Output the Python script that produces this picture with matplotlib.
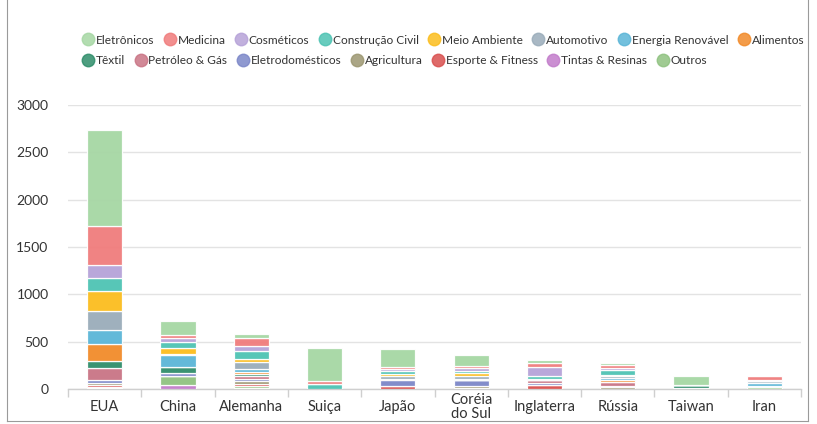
import matplotlib
matplotlib.use("Agg")
import matplotlib.pyplot as plt
from matplotlib.lines import Line2D
import numpy as np

countries = ["EUA", "China", "Alemanha", "Suiça", "Japão", "Coréia\ndo Sul",
             "Inglaterra", "Rússia", "Taiwan", "Iran"]

sectors = ["Eletrônicos", "Medicina", "Cosméticos", "Construção Civil", "Meio Ambiente",
           "Automotivo", "Energia Renovável", "Alimentos", "Têxtil", "Petróleo & Gás",
           "Eletrodomésticos", "Agricultura", "Esporte & Fitness", "Tintas & Resinas", "Outros"]

colors = ["#a6d7a4", "#f07c7c", "#b6a2d8", "#4ec3b3", "#fbbd1e",
          "#9aacba", "#5bb5d7", "#f28b2a", "#2f8d6a", "#c97485",
          "#7c87c8", "#9c9771", "#d9504f", "#c27cca", "#8fc280"]

# values per sector, one entry per country (same order as countries)
eletronicos      = [1010, 140, 37, 355, 190, 110, 35, 20, 95, 0]
medicina         = [410, 37, 90, 25, 25, 25, 35, 30, 0, 40]
cosmeticos       = [140, 37, 50, 0, 25, 35, 100, 25, 0, 15]
construcao       = [140, 63, 80, 55, 25, 20, 25, 50, 0, 0]
meio_ambiente    = [210, 63, 32, 0, 25, 25, 0, 15, 0, 0]
automotivo       = [200, 21, 80, 0, 25, 30, 20, 15, 0, 20]
energia          = [150, 125, 32, 0, 0, 20, 0, 20, 0, 25]
alimentos        = [180, 0, 20, 0, 0, 0, 0, 30, 0, 0]
textil           = [70, 63, 20, 0, 0, 0, 0, 0, 25, 0]
petroleo         = [125, 0, 25, 0, 20, 0, 25, 35, 0, 0]
eletrodomesticos = [35, 26, 30, 0, 55, 55, 25, 10, 0, 15]
agricultura      = [25, 0, 30, 0, 0, 20, 0, 25, 0, 0]
esporte          = [20, 0, 20, 0, 35, 15, 40, 0, 0, 0]
tintas           = [10, 40, 15, 0, 0, 0, 0, 0, 0, 0]
outros           = [10, 100, 15, 0, 0, 0, 0, 0, 15, 20]

series = [eletronicos, medicina, cosmeticos, construcao, meio_ambiente, automotivo,
          energia, alimentos, textil, petroleo, eletrodomesticos, agricultura,
          esporte, tintas, outros]

# stacking order from bottom to top
stack_order = [13, 14, 12, 11, 10, 9, 8, 7, 6, 5, 4, 3, 2, 1, 0]

plt.rcParams['font.family'] = ['Lato', 'DejaVu Sans']

W, H = 817, 424
fig = plt.figure(figsize=(W / 100, H / 100), dpi=100)
ax = fig.add_axes([68 / W, (H - 389) / H, (801 - 68) / W, (389 - 105) / H])

x = np.arange(len(countries))
bottom = np.zeros(len(countries))
for i in stack_order:
    vals = np.array(series[i], dtype=float)
    ax.bar(x, vals, bottom=bottom, width=0.48, color=colors[i],
           edgecolor="white", linewidth=0.9, alpha=0.95, zorder=3)
    bottom += vals

ax.set_xlim(-0.5, len(countries) - 0.5)
ax.set_ylim(0, 3000)
ax.set_yticks([0, 500, 1000, 1500, 2000, 2500, 3000])
ax.yaxis.grid(True, color="#e3e3e3", linewidth=1.0, zorder=0)
ax.set_axisbelow(True)
for s in ["top", "right", "left"]:
    ax.spines[s].set_visible(False)
ax.spines["bottom"].set_color("#cfcfcf")
ax.spines["bottom"].set_linewidth(1.0)

ax.set_xticks(x)
ax.set_xticklabels(countries, fontsize=10.5, color="#333333", linespacing=1.05)
for lab in ax.get_xticklabels():
    lab.set_verticalalignment("center")
ax.set_xticks(np.arange(-0.5, len(countries), 1), minor=True)
ax.tick_params(axis="x", which="major", length=0, pad=13)
ax.tick_params(axis="x", which="minor", length=6, color="#cfcfcf", width=1)
ax.tick_params(axis="y", length=0, labelsize=10, labelcolor="#333333", pad=14)

def handle(c):
    return Line2D([], [], marker="o", linestyle="none", markersize=9,
                  markerfacecolor=c, markeredgecolor=c, alpha=0.85)

row1 = list(range(0, 8))
row2 = list(range(8, 15))
leg_kw = dict(frameon=False, fontsize=8.6, handletextpad=0.15, columnspacing=0.8,
              borderpad=0, borderaxespad=0, handlelength=1.0, labelcolor="#333333")
leg1 = fig.legend([handle(colors[i]) for i in row1], [sectors[i] for i in row1],
                  ncol=8, loc="center left", bbox_to_anchor=(82 / W, 1 - 40 / H), **leg_kw)
leg2 = fig.legend([handle(colors[i]) for i in row2], [sectors[i] for i in row2],
                  ncol=7, loc="center left", bbox_to_anchor=(82 / W, 1 - 61 / H), **leg_kw)

# outer frame
frame_kw = dict(color="#9a9a9a", linewidth=0.8, transform=fig.transFigure)
fig.add_artist(Line2D([7 / W, 7 / W], [1 - 421 / H, 1], **frame_kw))
fig.add_artist(Line2D([808 / W, 808 / W], [1 - 421 / H, 1], **frame_kw))
fig.add_artist(Line2D([7 / W, 808 / W], [1 - 421 / H, 1 - 421 / H], **frame_kw))

fig.savefig("out.png", dpi=100)
